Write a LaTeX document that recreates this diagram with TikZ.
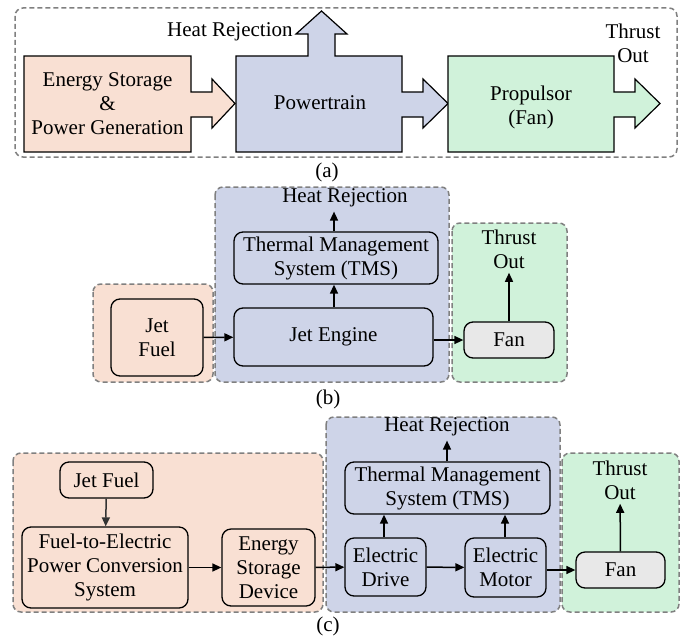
\documentclass[tikz,border=0pt]{standalone}
\usepackage{fontspec}
\setmainfont{Liberation Serif}
\usepackage{tikz}
\usetikzlibrary{positioning,arrows.meta,calc}
\definecolor{peach}{RGB}{249,224,211}
\definecolor{lav}{RGB}{206,212,232}
\definecolor{mint}{RGB}{208,242,218}
\definecolor{fangrey}{RGB}{232,232,232}
\definecolor{grpline}{RGB}{128,128,128}

\begin{document}
\begin{tikzpicture}[x=0.5pt,y=-0.5pt,
  font=\fontsize{10.5}{12}\selectfont,
  grp/.style={draw=grpline,line width=0.75pt,dash pattern=on 2.5pt off 1.5pt,rounded corners=4pt},
  blk/.style={draw,line width=0.65pt,rounded corners=4.5pt,align=center,inner sep=0pt},
  fat/.style={draw,line width=0.6pt},
  lbl/.style={align=center,inner sep=0pt},
  arr/.style={-{Triangle[length=4.5pt,width=4pt]},line width=0.75pt}]
\useasboundingbox (0,0) rectangle (683,642);
% (a) block level view with fat arrows
\draw[grp,fill=white] (15,8) rectangle (677,157);
\draw[fat,fill=peach] (24,56) -- (191,56) -- (191,92) -- (212,92) -- (212,79) -- (235,103.5) -- (212,128) -- (212,117) -- (191,117) -- (191,152) -- (24,152) -- cycle;
\draw[fat,fill=lav] (236,56) -- (308,56) -- (308,34) -- (296,34) -- (321.5,11) -- (347,34) -- (335,34) -- (335,56) -- (402,56) -- (402,92) -- (423,92) -- (423,79) -- (448,103.5) -- (423,128) -- (423,117) -- (402,117) -- (402,152) -- (236,152) -- cycle;
\draw[fat,fill=mint] (448,56) -- (614,56) -- (614,92) -- (635,92) -- (635,79) -- (660,103.5) -- (635,128) -- (635,117) -- (614,117) -- (614,152) -- (448,152) -- cycle;
\node[lbl] (esA) at (107.5,104) {Energy Storage\\\&\\Power Generation};
\node[lbl] (ptA) at (320,103) {Powertrain};
\node[lbl] (prA) at (531,107) {Propulsor\\(Fan)};
\node[lbl,anchor=east] (heatA) at (293,32) {Heat Rejection};
\node[lbl] (thrustA) at (633,43) {Thrust\\Out};
\node[lbl] (capA) at (327,172) {(a)};

% (b) conventional turbofan
\draw[grp,fill=peach] (93,284) rectangle (213,382);
\draw[grp,fill=lav] (215,187) rectangle (449,382);
\draw[grp,fill=mint] (452,223) rectangle (567,382);
\node[blk,fill=peach,minimum width=46pt,minimum height=38.5pt] (jfB) at (157,337.5) {Jet\\Fuel};
\node[blk,fill=lav,minimum width=102pt,minimum height=26pt] (tmsB) at (336,258) {Thermal Management\\System (TMS)};
\node[blk,fill=lav,minimum width=99.5pt,minimum height=29pt] (jeB) at (333.5,337) {Jet Engine};
\node[blk,fill=fangrey,minimum width=45pt,minimum height=18pt] (fanB) at (509,340) {Fan};
\node[lbl,inner sep=2pt] (heatB) at (345,198) {Heat Rejection};
\node[lbl,inner sep=2pt] (thrustB) at (509,249) {Thrust\\Out};
\draw[arr] (jfB) -- (jeB);
\draw[arr] (jeB.north -| 334,0) -- (tmsB.south -| 334,0);
\draw[arr] (tmsB.north -| 334,0) -- (heatB.south -| 334,0);
\draw[arr] (jeB.east |- fanB) -- (fanB.west);
\draw[arr] (fanB) -- (thrustB);
\node[lbl] (capB) at (328,399) {(b)};

% (c) series hybrid electric
\draw[grp,fill=peach] (13,453) rectangle (323,612);
\draw[grp,fill=lav] (326,417) rectangle (560,612);
\draw[grp,fill=mint] (562,453) rectangle (679,612);
\node[blk,fill=peach,minimum width=46.5pt,minimum height=18pt] (jfC) at (106.5,480) {Jet Fuel};
\node[blk,fill=peach,minimum width=83pt,minimum height=40.5pt] (fteC) at (105,567.5) {Fuel-to-Electric\\Power Conversion\\System};
\node[blk,fill=peach,minimum width=46.5pt,minimum height=38.5pt] (esdC) at (268.5,567.5) {Energy\\Storage\\Device};
\node[blk,fill=lav,minimum width=40.5pt,minimum height=29pt] (edC) at (385.5,567) {Electric\\Drive};
\node[blk,fill=lav,minimum width=40.5pt,minimum height=29.5pt] (emC) at (505.5,567.5) {Electric\\Motor};
\node[blk,fill=lav,minimum width=102.5pt,minimum height=26pt] (tmsC) at (447.5,488) {Thermal Management\\System (TMS)};
\node[blk,fill=fangrey,minimum width=44.5pt,minimum height=18pt] (fanC) at (620.5,570) {Fan};
\node[lbl,inner sep=2pt] (heatC) at (447,427) {Heat Rejection};
\node[lbl,inner sep=2pt] (thrustC) at (620,480) {Thrust\\Out};
\draw[arr,draw=black!80] (jfC) -- (fteC);
\draw[arr] (fteC) -- (esdC);
\draw[arr] (esdC) -- (edC);
\draw[arr] (edC) -- (emC);
\draw[arr] (emC.east |- fanC) -- (fanC.west);
\draw[arr] (edC.north -| 384,0) -- (tmsC.south -| 384,0);
\draw[arr] (emC.north -| 505,0) -- (tmsC.south -| 505,0);
\draw[arr] (tmsC.north -| 447,0) -- (heatC.south -| 447,0);
\draw[arr] (fanC) -- (thrustC);
\node[lbl] (capC) at (328,626) {(c)};
\end{tikzpicture}
\end{document}
